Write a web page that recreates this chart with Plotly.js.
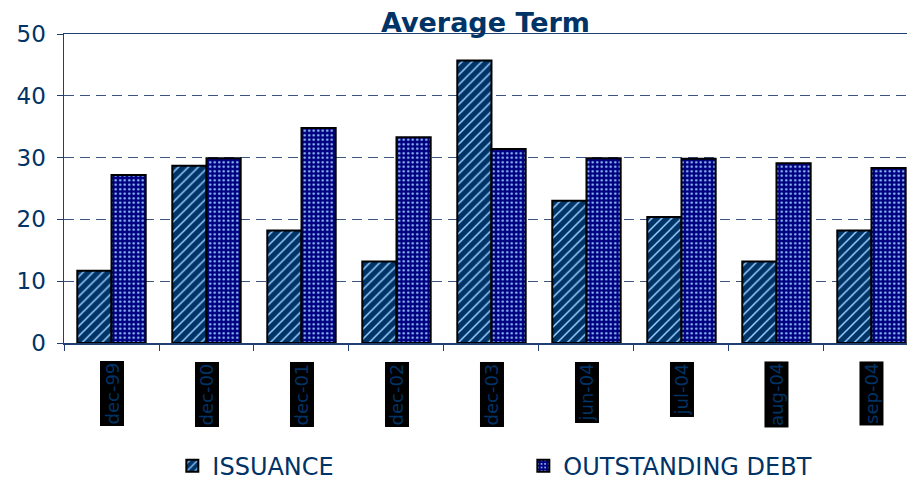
<!DOCTYPE html>
<html>
<head>
<meta charset="utf-8">
<script src="https://cdn.plot.ly/plotly-3.0.1.min.js"></script>
<style>
html,body{margin:0;padding:0;background:#fff;}
#chart{width:907px;height:482px;}
</style>
</head>
<body>
<div id="chart"></div>
<script>
const categories = ["dec-99","dec-00","dec-01","dec-02","dec-03","jun-04","jul-04","aug-04","sep-04"];
const issuance = [11.7, 28.7, 18.2, 13.2, 45.7, 23.0, 20.4, 13.2, 18.2];
const outstandingDebt = [27.2, 29.9, 34.8, 33.3, 31.4, 29.9, 29.8, 29.1, 28.3];
const seriesNames = ["ISSUANCE", "OUTSTANDING DEBT"];
const yTicks = [0, 10, 20, 30, 40, 50];

const navy = "#003366";
const fontFam = "DejaVu Sans, Verdana, sans-serif";

const traces = [
  {
    type: "bar", name: seriesNames[0], x: categories, y: issuance, legend: "legend",
    marker: {
      color: "#003366",
      line: {color: "#000000", width: 2},
      pattern: {shape: "/", fgcolor: "#99ccff", bgcolor: "#003366", size: 7, solidity: 0.22}
    }
  },
  {
    type: "bar", name: seriesNames[1], x: categories, y: outstandingDebt, legend: "legend2",
    marker: {
      color: "#000080",
      line: {color: "#000000", width: 2},
      pattern: {shape: ".", fgcolor: "#99ccff", bgcolor: "#000080", size: 4.5, solidity: 0.22}
    }
  }
];

const annotations = categories.map(c => ({
  xref: "x", yref: "paper", x: c, y: 0, yanchor: "top", xanchor: "center",
  yshift: -18, text: c, textangle: -90, showarrow: false,
  bgcolor: "#000000", borderpad: 1,
  font: {family: fontFam, size: 18, color: navy}
}));

const legendBase = {
  orientation: "h", xref: "container", yref: "container",
  y: 0.033, xanchor: "left", yanchor: "middle",
  font: {family: fontFam, size: 24, color: navy},
  bgcolor: "rgba(0,0,0,0)", itemwidth: 30
};

const layout = {
  width: 907, height: 482,
  margin: {l: 64, r: 0, t: 34, b: 139},
  paper_bgcolor: "#ffffff", plot_bgcolor: "#ffffff",
  title: {text: "<b>Average Term</b>", x: 0.5, xref: "paper", y: 0.953, yref: "container", yanchor: "middle",
          font: {family: fontFam, size: 27, color: navy}},
  barmode: "group", bargap: 0.28, bargroupgap: 0,
  xaxis: {
    type: "category", range: [-0.5, 8.374],
    showticklabels: false, showgrid: false,
    showline: true, linecolor: "#1f3f73", linewidth: 1.5, mirror: true,
    ticks: "outside", ticklen: 6, tickcolor: "#1f3f73", tickson: "boundaries"
  },
  yaxis: {
    range: [0, 50], tickvals: yTicks, ticktext: yTicks.map(String),
    showline: true, linecolor: "#1f3f73", linewidth: 1.5,
    ticks: "outside", ticklen: 6, tickcolor: "#1f3f73",
    ticklabelstandoff: 6,
    showgrid: true, gridcolor: "#3a5580", griddash: "10px,6px", gridwidth: 1,
    zeroline: false,
    tickfont: {family: fontFam, size: 23, color: navy}
  },
  legend: Object.assign({}, legendBase, {x: 0.19}),
  legend2: Object.assign({}, legendBase, {x: 0.577}),
  annotations: annotations,
  showlegend: true
};

Plotly.newPlot("chart", traces, layout, {displayModeBar: false, staticPlot: true});
</script>
</body>
</html>
